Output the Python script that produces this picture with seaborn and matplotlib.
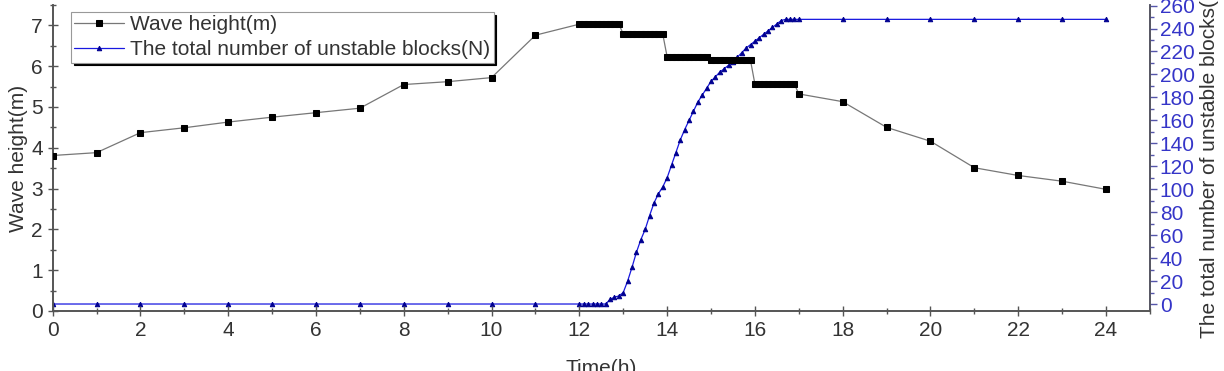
import matplotlib
matplotlib.use("Agg")
import matplotlib.pyplot as plt
from matplotlib.ticker import MultipleLocator
import seaborn as sns
from pandas import DataFrame

# wave height (m) against time (h); dense 0.1 h samples between 12 and 17 h
time_h = [0, 1, 2, 3, 4, 5, 6, 7, 8, 9, 10, 11,
          12.0, 12.1, 12.2, 12.3, 12.4, 12.5, 12.6, 12.7, 12.8, 12.9,
          13.0, 13.1, 13.2, 13.3, 13.4, 13.5, 13.6, 13.7, 13.8, 13.9,
          14.0, 14.1, 14.2, 14.3, 14.4, 14.5, 14.6, 14.7, 14.8, 14.9,
          15.0, 15.1, 15.2, 15.3, 15.4, 15.5, 15.6, 15.7, 15.8, 15.9,
          16.0, 16.1, 16.2, 16.3, 16.4, 16.5, 16.6, 16.7, 16.8, 16.9,
          17, 18, 19, 20, 21, 22, 23, 24]

wave_height = [3.81, 3.88, 4.37, 4.49, 4.63, 4.75, 4.86, 4.97, 5.55, 5.62, 5.72, 6.76,
               7.03, 7.03, 7.03, 7.03, 7.03, 7.03, 7.03, 7.03, 7.03, 7.03,
               6.79, 6.79, 6.79, 6.79, 6.79, 6.79, 6.79, 6.79, 6.79, 6.79,
               6.23, 6.23, 6.23, 6.23, 6.23, 6.23, 6.23, 6.23, 6.23, 6.23,
               6.14, 6.14, 6.14, 6.14, 6.14, 6.14, 6.14, 6.14, 6.14, 6.14,
               5.56, 5.56, 5.56, 5.56, 5.56, 5.56, 5.56, 5.56, 5.56, 5.56,
               5.32, 5.13, 4.50, 4.16, 3.51, 3.32, 3.18, 2.98]

unstable_blocks = [0, 0, 0, 0, 0, 0, 0, 0, 0, 0, 0, 0,
                   0, 0, 0, 0, 0, 0, 0, 4, 6, 7,
                   10, 20, 32, 45, 56, 65, 77, 88, 96, 102,
                   110, 121, 132, 143, 152, 160, 168, 176, 182, 188,
                   194, 198, 202, 205, 208, 211, 215, 219, 223, 226,
                   229, 232, 235, 238, 241, 244, 247, 248, 248, 248,
                   248, 248, 248, 248, 248, 248, 248, 248]

df = DataFrame({"Time(h)": time_h, "Wave height(m)": wave_height,
                "N": unstable_blocks})

sns.set_style("ticks")
plt.rcParams["font.family"] = ["Liberation Sans", "DejaVu Sans"]
plt.rcParams["font.size"] = 15

axis_col = "#555555"
text_col = "#333333"
blue = "#1818e0"

fig = plt.figure(figsize=(12.24, 3.71), dpi=100)
ax = fig.add_axes([0.043, 0.162, 0.8965, 0.8245])
ax2 = ax.twinx()

sns.lineplot(df, x="Time(h)", y="Wave height(m)", ax=ax, estimator=None,
             color="#777777", lw=0.9, marker="s", markersize=5,
             markerfacecolor="black", markeredgecolor="black", zorder=3)
sns.lineplot(df, x="Time(h)", y="N", ax=ax2, estimator=None,
             color=blue, lw=0.9, marker="^", markersize=3.2,
             markerfacecolor="#000090", markeredgecolor="#000090")
l1 = ax.lines[0]
l2 = ax2.lines[0]

ax.set_xlim(0, 25)
ax.set_ylim(0, 7.5)
ax2.set_ylim(-6, 260.5)

ax.xaxis.set_major_locator(MultipleLocator(2))
ax.xaxis.set_minor_locator(MultipleLocator(1))
ax.yaxis.set_major_locator(MultipleLocator(1))
ax.yaxis.set_minor_locator(MultipleLocator(0.5))
ax2.yaxis.set_major_locator(MultipleLocator(20))
ax2.yaxis.set_minor_locator(MultipleLocator(10))

ax.tick_params(which="both", direction="inout", colors=axis_col,
               labelcolor=text_col, labelsize=15, width=1)
ax.tick_params(which="major", length=7)
ax.tick_params(which="minor", length=4)
ax2.tick_params(which="both", direction="out", colors="#5555aa",
                labelcolor="#3535c8", labelsize=15, width=1, pad=2)
ax2.tick_params(which="major", length=5)
ax2.tick_params(which="minor", length=3)

for a in (ax, ax2):
    a.spines["top"].set_visible(False)
    for s in ("left", "bottom", "right"):
        a.spines[s].set_color(axis_col)
        a.spines[s].set_linewidth(1.2)
ax2.spines["right"].set_color("#5555aa")

ax.set_xlabel("Time(h)", color=text_col, fontsize=15, labelpad=14)
ax.set_ylabel("Wave height(m)", color=text_col, fontsize=15, labelpad=2)
ax2.set_ylabel("The total number of unstable blocks(N)", color=text_col,
               fontsize=15, labelpad=4)

leg = ax.legend([l1, l2], ["Wave height(m)", "The total number of unstable blocks(N)"],
                loc="upper left", bbox_to_anchor=(0.0167, 0.977), borderaxespad=0,
                frameon=True, fancybox=False, fontsize=15, handlelength=2.4,
                labelspacing=0.3, borderpad=0.15, handletextpad=0.3,
                shadow={"color": "black", "alpha": 1})
leg.get_frame().set_edgecolor("#999999")
leg.get_frame().set_linewidth(0.8)
for t in leg.get_texts():
    t.set_color(text_col)
ax.set_zorder(ax2.get_zorder() + 1)
ax.patch.set_visible(False)

fig.savefig("out.png", dpi=100)
plt.close(fig)
